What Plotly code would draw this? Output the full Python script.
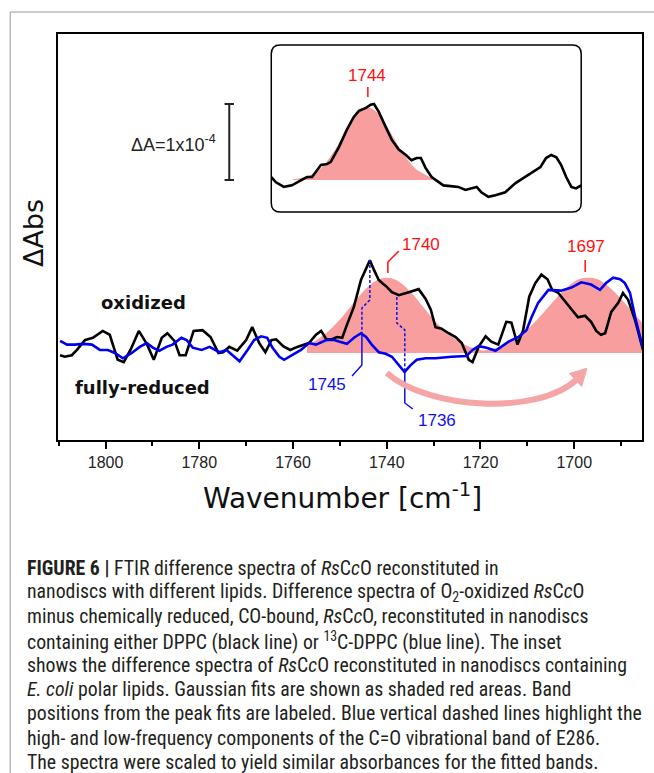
import plotly.graph_objects as go

# ---------------- data (ΔA in units of 1e-4) ----------------
black_wn = [1809.7, 1808.7, 1807.2, 1806.1, 1804.4, 1802.7, 1800.6, 1799.1, 1797.4, 1796.1,
            1794.6, 1792.9, 1791.2, 1789.7, 1788.0, 1786.8, 1785.3, 1784.2, 1782.9, 1781.2,
            1779.3, 1777.6, 1775.9, 1774.9, 1773.6, 1771.9, 1770.0, 1768.7, 1767.2, 1765.9,
            1764.6, 1763.6, 1762.1, 1760.6, 1759.1, 1757.8, 1756.6, 1755.1, 1754.0, 1752.9,
            1751.7, 1750.6, 1749.5, 1748.5, 1747.0, 1745.5, 1744.4, 1743.6, 1742.7, 1741.7,
            1741.0, 1740.0, 1738.9, 1737.4, 1735.3, 1733.2, 1731.7, 1730.6, 1729.6, 1728.3,
            1726.8, 1725.3, 1724.0, 1722.5, 1721.7, 1720.4, 1718.9, 1717.7, 1716.2, 1714.5,
            1713.4, 1712.1, 1710.9, 1709.6, 1708.3, 1707.0, 1705.7, 1704.7, 1703.4, 1701.9,
            1700.6, 1699.2, 1697.7, 1696.4, 1695.3, 1694.3, 1693.4, 1692.1, 1690.6, 1689.6,
            1688.5, 1687.0, 1685.8, 1685.3]
black_dA = [-0.03, -0.05, -0.03, 0.04, 0.17, 0.20, 0.29, 0.24, -0.09, -0.12,
            0.05, 0.29, 0.12, -0.09, 0.20, 0.26, 0.16, -0.03, -0.03, 0.29,
            0.30, 0.21, 0.00, 0.01, 0.08, 0.03, 0.17, 0.34, 0.13, 0.01,
            0.17, 0.18, 0.09, 0.04, 0.08, 0.11, 0.13, 0.24, 0.29, 0.18,
            0.18, 0.21, 0.20, 0.37, 0.61, 0.96, 1.12, 1.22, 1.09, 0.96,
            0.92, 0.87, 0.80, 0.76, 0.80, 0.84, 0.71, 0.57, 0.34, 0.32,
            0.26, 0.21, 0.13, -0.09, -0.12, 0.08, 0.22, 0.15, 0.11, 0.41,
            0.40, 0.11, 0.30, 0.74, 0.92, 1.03, 0.97, 0.83, 0.79, 0.67,
            0.57, 0.47, 0.49, 0.41, 0.29, 0.24, 0.26, 0.54, 0.66, 0.79,
            0.70, 0.43, 0.15, 0.04]

blue_wn = [1809.7, 1808.2, 1806.5, 1804.8, 1802.9, 1801.2, 1799.5, 1798.0, 1796.3, 1794.4,
           1792.7, 1791.2, 1789.9, 1788.5, 1787.0, 1785.7, 1783.8, 1782.7, 1781.4, 1779.5,
           1777.8, 1775.7, 1774.2, 1772.9, 1771.4, 1769.7, 1768.3, 1766.8, 1765.5, 1764.4,
           1762.9, 1761.9, 1760.2, 1758.3, 1756.6, 1755.1, 1752.9, 1751.2, 1750.2, 1748.5,
           1747.0, 1745.5, 1744.4, 1743.2, 1741.7, 1740.2, 1738.9, 1737.4, 1736.2, 1734.9,
           1733.6, 1731.7, 1729.6, 1726.2, 1723.0, 1721.7, 1720.4, 1718.7, 1716.8, 1714.0,
           1711.9, 1710.2, 1709.1, 1707.7, 1705.5, 1702.8, 1700.6, 1698.5, 1696.4, 1694.5,
           1693.2, 1691.7, 1690.2, 1689.2, 1688.1, 1687.0, 1685.3]
blue_dA = [0.16, 0.11, 0.11, 0.12, 0.11, 0.04, 0.04, 0.00, -0.07, 0.00,
           0.08, 0.13, 0.07, 0.03, 0.08, 0.11, 0.20, 0.17, 0.07, 0.04,
           0.08, 0.01, 0.04, -0.03, -0.11, 0.04, 0.17, 0.22, 0.20, 0.07,
           -0.05, -0.09, -0.03, 0.04, 0.13, 0.11, 0.17, 0.17, 0.15, 0.12,
           0.20, 0.26, 0.21, 0.11, 0.01, -0.01, -0.05, -0.16, -0.25, -0.16,
           -0.09, -0.07, -0.07, -0.05, -0.04, 0.04, 0.09, 0.07, 0.03, 0.15,
           0.21, 0.30, 0.47, 0.66, 0.83, 0.82, 0.86, 0.93, 0.90, 0.83,
           0.92, 0.99, 0.97, 0.92, 0.79, 0.47, 0.05]

g1740_wn = [1757.0, 1754.0, 1751.0, 1748.0, 1745.0, 1742.0, 1740.0, 1738.0, 1735.0, 1732.0,
            1729.0, 1726.0, 1723.0, 1720.0, 1718.0]
g1740_dA = [0.10, 0.21, 0.375, 0.59, 0.81, 0.96, 0.99, 0.96, 0.81, 0.59,
            0.375, 0.21, 0.10, 0.04, 0.0]

g1697_wn = [1722.0, 1719.0, 1716.0, 1713.0, 1710.0, 1707.0, 1704.0, 1701.0, 1699.0, 1697.0,
            1695.0, 1693.0, 1690.0, 1687.0, 1685.5]
g1697_dA = [0.01, 0.035, 0.08, 0.17, 0.31, 0.50, 0.71, 0.89, 0.97, 0.99,
            0.97, 0.89, 0.71, 0.50, 0.40]

inset_wn = [1764.6, 1763.6, 1761.9, 1760.2, 1758.2, 1757.0, 1755.9, 1754.8, 1754.0, 1752.7,
            1751.9, 1750.2, 1748.5, 1747.0, 1745.9, 1744.4, 1743.4, 1742.7, 1741.7, 1740.2,
            1738.9, 1737.4, 1735.9, 1734.7, 1733.6, 1732.7, 1731.7, 1730.4, 1728.9, 1727.9,
            1726.4, 1724.7, 1723.2, 1721.9, 1720.8, 1719.8, 1718.3, 1716.8, 1714.7, 1712.5,
            1710.4, 1709.1, 1707.2, 1706.0, 1704.9, 1703.8, 1702.8, 1701.7, 1700.6, 1699.6,
            1698.5]
inset_dA = [0.04, -0.03, -0.09, -0.07, 0.00, 0.04, 0.04, 0.13, 0.20, 0.21,
            0.24, 0.43, 0.66, 0.83, 0.91, 0.95, 0.99, 1.00, 0.90, 0.70,
            0.53, 0.40, 0.33, 0.26, 0.29, 0.29, 0.16, 0.04, -0.03, -0.07,
            -0.08, -0.09, -0.13, -0.11, -0.09, -0.16, -0.22, -0.20, -0.16, -0.04,
            0.04, 0.09, 0.17, 0.29, 0.33, 0.30, 0.20, 0.04, -0.09, -0.11,
            -0.07]

ginset_wn = [1760.0, 1757.0, 1754.0, 1751.0, 1748.0, 1746.0, 1744.0, 1742.0, 1740.0, 1737.0,
             1734.0, 1731.0, 1730.0]
ginset_dA = [0.01, 0.046, 0.16, 0.40, 0.71, 0.89, 0.95, 0.89, 0.71, 0.40,
             0.16, 0.046, 0.0]

tick_vals = [1800, 1780, 1760, 1740, 1720, 1700]
tick_text = ["1800", "1780", "1760", "1740", "1720", "1700"]

caption_lines = [
    "<b>FIGURE 6 |</b> FTIR difference spectra of <i>Rs</i>C<i>c</i>O reconstituted in",
    "nanodiscs with different lipids. Difference spectra of O<sub>2</sub>-oxidized <i>Rs</i>C<i>c</i>O",
    "minus chemically reduced, CO-bound, <i>Rs</i>C<i>c</i>O, reconstituted in nanodiscs",
    "containing either DPPC (black line) or <sup>13</sup>C-DPPC (blue line). The inset",
    "shows the difference spectra of <i>Rs</i>C<i>c</i>O reconstituted in nanodiscs containing",
    "<i>E. coli</i> polar lipids. Gaussian fits are shown as shaded red areas. Band",
    "positions from the peak fits are labeled. Blue vertical dashed lines highlight the",
    "high- and low-frequency components of the C=O vibrational band of E286.",
    "The spectra were scaled to yield similar absorbances for the fitted bands.",
]

# ---------------- styling ----------------
FILL = "rgb(248,158,158)"
ARROW = "rgb(245,165,165)"
RED = "#ff1010"
BLUE = "#1010ee"
LINE_BLUE = "#0000ee"
W, H = 654, 773
ML, MR, MT, MB = 58, 10, 34, 333

fig = go.Figure()

# main gaussians
fig.add_trace(go.Scatter(x=g1740_wn, y=g1740_dA, mode="lines", line=dict(width=0, shape="spline"),
                         fill="tozeroy", fillcolor=FILL, hoverinfo="skip"))
fig.add_trace(go.Scatter(x=g1697_wn, y=g1697_dA, mode="lines", line=dict(width=0, shape="spline"),
                         fill="tozeroy", fillcolor=FILL, hoverinfo="skip"))
# main spectra
fig.add_trace(go.Scatter(x=black_wn, y=black_dA, mode="lines", line=dict(color="black", width=2.6)))
fig.add_trace(go.Scatter(x=blue_wn, y=blue_dA, mode="lines", line=dict(color=LINE_BLUE, width=2.6)))

# inset
fig.add_trace(go.Scatter(x=ginset_wn, y=ginset_dA, mode="lines", line=dict(width=0, shape="spline"),
                         fill="tozeroy", fillcolor=FILL, xaxis="x2", yaxis="y2", hoverinfo="skip"))
fig.add_trace(go.Scatter(x=inset_wn, y=inset_dA, mode="lines", line=dict(color="black", width=2.6),
                         xaxis="x2", yaxis="y2"))

# inset domain (paper)
ix0, ix1 = (272 - ML) / 586, (583 - ML) / 586
iy0, iy1 = (440 - 212) / 406, (440 - 45) / 406

fig.update_layout(
    width=W, height=H,
    margin=dict(l=ML, r=MR, t=MT, b=MB, pad=0),
    paper_bgcolor="white", plot_bgcolor="white",
    showlegend=False,
    font=dict(family="Liberation Sans, Arial, sans-serif", color="#222"),
    xaxis=dict(range=[1810.14, 1685.54], showline=True, linecolor="black", linewidth=2, mirror=True,
               showgrid=False, zeroline=False, ticks="outside", ticklen=7, tickwidth=1.5, tickcolor="black",
               tickvals=tick_vals, ticktext=tick_text, tickfont=dict(size=16, color="#222"),
               minor=dict(dtick=10, ticks="outside", ticklen=4, tickwidth=1.5, tickcolor="black", showgrid=False),
               ticklabelstandoff=0),
    yaxis=dict(range=[-1.145, 4.197], showline=True, linecolor="black", linewidth=2, mirror=True,
               showgrid=False, zeroline=False, showticklabels=False, ticks=""),
    xaxis2=dict(domain=[ix0, ix1], anchor="y2", range=[1764.6, 1698.5], visible=False),
    yaxis2=dict(domain=[iy0, iy1], anchor="x2", range=[-0.42, 1.776], visible=False),
)

shapes = []
# outer grey frame
shapes.append(dict(type="rect", xref="paper", yref="paper",
                   x0=(10 - ML) / 586, x1=(670 - ML) / 586, y0=(440 - 790) / 406, y1=(440 - 12) / 406,
                   line=dict(color="#9a9a9a", width=1), fillcolor="rgba(0,0,0,0)", layer="below"))
# rounded inset box
rx, ry = 9 / 586, 9 / 406
p = (f"M {ix0+rx},{iy0} L {ix1-rx},{iy0} Q {ix1},{iy0} {ix1},{iy0+ry} L {ix1},{iy1-ry} "
     f"Q {ix1},{iy1} {ix1-rx},{iy1} L {ix0+rx},{iy1} Q {ix0},{iy1} {ix0},{iy1-ry} "
     f"L {ix0},{iy0+ry} Q {ix0},{iy0} {ix0+rx},{iy0} Z")
shapes.append(dict(type="path", xref="paper", yref="paper", path=p, line=dict(color="black", width=1.5)))

# scale bar
shapes += [
    dict(type="line", xref="x", yref="y", x0=1773.6, x1=1773.6, y0=2.276, y1=3.276, line=dict(color="#222", width=2)),
    dict(type="line", xref="x", yref="y", x0=1774.6, x1=1772.6, y0=3.276, y1=3.276, line=dict(color="#222", width=2)),
    dict(type="line", xref="x", yref="y", x0=1774.6, x1=1772.6, y0=2.276, y1=2.276, line=dict(color="#222", width=2)),
]
# red leaders
shapes.append(dict(type="path", xref="x", yref="y", path="M 1739.76,1.053 L 1739.76,1.197 L 1737.4,1.342",
                   line=dict(color=RED, width=1.5)))
shapes.append(dict(type="line", xref="x", yref="y", x0=1697.66, x1=1697.66, y0=1.066, y1=1.224,
                   line=dict(color=RED, width=1.5)))
shapes.append(dict(type="line", xref="x2", yref="y2", x0=1744.0, x1=1744.0, y0=1.092, y1=1.224,
                   line=dict(color=RED, width=1.5)))
# blue leaders
shapes.append(dict(type="path", xref="x", yref="y", path="M 1743.6,1.224 L 1743.6,0.697 L 1745.3,0.592 L 1745.3,0.263",
                   line=dict(color=BLUE, width=1.5, dash="3px,2px")))
shapes.append(dict(type="path", xref="x", yref="y", path="M 1745.3,0.263 L 1745.3,-0.158 L 1747.4,-0.303",
                   line=dict(color=BLUE, width=1.5)))
shapes.append(dict(type="path", xref="x", yref="y", path="M 1737.85,0.737 L 1737.85,0.395 L 1736.15,0.303 L 1736.15,-0.25",
                   line=dict(color=BLUE, width=1.5, dash="3px,2px")))
shapes.append(dict(type="path", xref="x", yref="y", path="M 1736.15,-0.25 L 1736.15,-0.658 L 1734.45,-0.737",
                   line=dict(color=BLUE, width=1.5)))
# curved arrow
shapes.append(dict(type="path", xref="x", yref="y",
                   path="M 1740.0,-0.263 C 1731.0,-0.75 1707.7,-0.816 1699.6,-0.355",
                   line=dict(color=ARROW, width=6)))
shapes.append(dict(type="path", xref="x", yref="y",
                   path="M 1697.3,-0.20 L 1701.0,-0.27 L 1698.4,-0.44 Z",
                   line=dict(color=ARROW, width=1), fillcolor=ARROW))
fig.update_layout(shapes=shapes)

ann = []
def txt(x, y, t, size, color, xref="x", yref="y", xanchor="center", family=None, angle=0):
    d = dict(x=x, y=y, xref=xref, yref=yref, text=t, showarrow=False, xanchor=xanchor, yanchor="middle",
             font=dict(size=size, color=color), textangle=angle)
    if family:
        d["font"]["family"] = family
    ann.append(d)

txt(1732.75, 1.421, "1740", 17, RED)
txt(1697.45, 1.395, "1697", 17, RED)
txt(1744.2, 1.38, "1744", 17, RED, xref="x2", yref="y2")
txt(1752.7, -0.421, "1745", 17, BLUE)
txt(1729.3, -0.882, "1736", 17, BLUE)
txt(1776.0, 2.76, "ΔA=1x10<sup>-4</sup>", 18, "#222", xanchor="right")
txt(1792.0, 0.658, "<b>oxidized</b>", 18, "#111", family="DejaVu Sans")
txt(1792.1, -0.46, "<b>fully-reduced</b>", 18, "#111", family="DejaVu Sans")
txt((33 - ML) / 586, (440 - 233) / 406, "ΔAbs", 27, "#111", xref="paper", yref="paper",
    family="DejaVu Sans", angle=-90)
txt((343.5 - ML) / 586, (440 - 497) / 406, "Wavenumber [cm<sup>-1</sup>]", 28, "#111",
    xref="paper", yref="paper", family="DejaVu Sans")

for i, line in enumerate(caption_lines):
    y_px = 568 + 24.3 * i
    ann.append(dict(x=(25 - ML) / 586, y=(440 - y_px) / 406, xref="paper", yref="paper", text=line,
                    showarrow=False, xanchor="left", yanchor="middle",
                    font=dict(size=19.8, color="#231f20",
                              family="Liberation Sans Narrow, Roboto Condensed, Liberation Sans, sans-serif")))

fig.update_layout(annotations=ann)
fig.write_html("out.html", post_script="document.body.style.margin='0px';",
               config={"displayModeBar": False})
